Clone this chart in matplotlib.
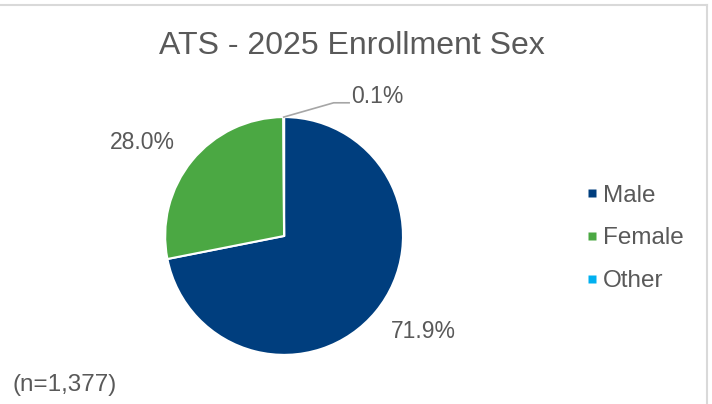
import matplotlib

matplotlib.use("Agg")
import matplotlib.pyplot as plt
import numpy as np
from matplotlib.lines import Line2D

TITLE = "ATS - 2025 Enrollment Sex"
CATEGORIES = ["Male", "Female", "Other"]
SHARES = [71.9, 28.0, 0.1]
COLORS = ["#003E7E", "#4BA843", "#00B0F0"]
NOTE = "(n=1,377)"
TEXT_COLOR = "#595959"

plt.rcParams.update({
    "font.family": ["Liberation Sans", "DejaVu Sans"],
    "text.color": TEXT_COLOR,
})

fig = plt.figure(figsize=(7.12, 4.04), dpi=100)
fig.patch.set_facecolor("white")

# chart frame (top and right edges visible in the crop)
frame = "#D9D9D9"
fig.add_artist(Line2D([0.0, 0.993], [0.988, 0.988], color=frame, linewidth=1.5, transform=fig.transFigure))
fig.add_artist(Line2D([0.993, 0.993], [0.0, 0.988], color=frame, linewidth=1.5, transform=fig.transFigure))

fig.text(0.494, 0.887, TITLE, ha="center", va="center", fontsize=23)

ax = fig.add_axes([0.399 - 0.167, 0.416 - 0.2946, 0.334, 0.589])
wedges, _ = ax.pie(
    SHARES,
    colors=COLORS,
    startangle=90,
    counterclock=False,
    radius=1.0,
    wedgeprops={"edgecolor": "white", "linewidth": 1.5},
)
ax.set_xlim(-1, 1)
ax.set_ylim(-1, 1)
ax.set_aspect("equal")

# data labels
offsets = [(1.42, 5.0), (1.43, 6.0)]
for w, share, (dist, dang) in zip(wedges[:2], SHARES[:2], offsets):
    mid = np.deg2rad((w.theta1 + w.theta2) / 2 + dang)
    ax.text(dist * np.cos(mid), dist * np.sin(mid), f"{share:.1f}%",
            ha="center", va="center", fontsize=16.5, clip_on=False)

other = wedges[2]
ang = np.deg2rad((other.theta1 + other.theta2) / 2)
x0, y0 = np.cos(ang), np.sin(ang)
ax.add_line(Line2D([x0, x0 + 0.42, x0 + 0.55], [y0, y0 + 0.12, y0 + 0.12],
                   color="#A6A6A6", linewidth=1.2, clip_on=False))
ax.text(x0 + 0.57, y0 + 0.17, f"{SHARES[2]:.1f}%", ha="left", va="center",
        fontsize=16.5, clip_on=False)

handles = [
    Line2D([], [], marker="s", linestyle="none", markersize=5.5,
           markerfacecolor=w.get_facecolor(), markeredgecolor="none")
    for w in wedges
]
leg = fig.legend(
    handles, CATEGORIES,
    loc="center left", bbox_to_anchor=(0.794, 0.41),
    frameon=False, fontsize=17.5,
    handlelength=0.4, handletextpad=0.25,
    labelspacing=0.85,
)

fig.text(0.017, 0.048, NOTE, ha="left", va="center", fontsize=17.5)

fig.savefig("out.png", dpi=100)
